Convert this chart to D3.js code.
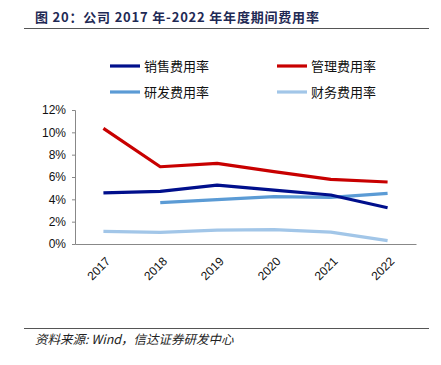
<!DOCTYPE html>
<html>
<head>
<meta charset="utf-8">
<script src="https://cdn.jsdelivr.net/npm/d3@7"></script>
<style>
  body { margin: 0; background: #fff; }
  svg { display: block; font-family: "Liberation Sans", Arial, "Noto Sans CJK SC", sans-serif; }
</style>
</head>
<body>
<svg id="chart" width="441" height="365"></svg>
<script>
const years = ['2017', '2018', '2019', '2020', '2021', '2022'];
const sales = [4.57, 4.72, 5.28, 4.83, 4.39, 3.25];
const admin = [10.35, 6.92, 7.22, 6.48, 5.79, 5.55];
const rnd = [null, 3.70, 3.97, 4.24, 4.18, 4.54];
const finance = [1.13, 1.04, 1.25, 1.28, 1.07, 0.30];
const yTicks = [0, 2, 4, 6, 8, 10, 12];

const seriesList = [
  { name: '销售费用率', values: sales, color: '#000f8c' },
  { name: '管理费用率', values: admin, color: '#c80000' },
  { name: '研发费用率', values: rnd, color: '#5b9bd5' },
  { name: '财务费用率', values: finance, color: '#a2c6e8' }
];

const margin = { top: 110, right: 25, bottom: 121, left: 75 },
  width = 441,
  height = 365;

const svg = d3.select('#chart');
const cjk = '"Noto Sans CJK SC", "Liberation Sans", sans-serif';

// title + rules
svg.append('text')
  .attr('x', 35).attr('y', 22)
  .attr('font-family', cjk)
  .attr('font-weight', 'bold')
  .attr('font-size', 13)
  .attr('letter-spacing', 0.8)
  .attr('fill', '#1f2a55')
  .text('图 20：公司 2017 年-2022 年年度期间费用率');
svg.append('line')
  .attr('x1', 24).attr('x2', 429).attr('y1', 28.5).attr('y2', 28.5)
  .attr('stroke', '#555').attr('stroke-width', 1);
svg.append('line')
  .attr('x1', 24).attr('x2', 429).attr('y1', 328.5).attr('y2', 328.5)
  .attr('stroke', '#555').attr('stroke-width', 1);
svg.append('text')
  .attr('x', 35).attr('y', 344)
  .attr('font-family', cjk)
  .attr('font-style', 'italic')
  .attr('font-size', 12.5)
  .attr('fill', '#222')
  .text('资料来源: Wind，信达证券研发中心');

const x = d3.scalePoint()
  .domain(years)
  .range([margin.left, width - margin.right])
  .padding(0.5);

const y = d3.scaleLinear()
  .domain([0, 12])
  .range([height - margin.bottom, margin.top]);

// y axis
svg.append('g')
  .attr('transform', `translate(${margin.left},0)`)
  .call(d3.axisLeft(y).tickValues(yTicks).tickSize(3).tickFormat(d => d + '%'))
  .call(g => g.select('.domain').attr('stroke', '#888'))
  .call(g => g.selectAll('.tick line').attr('stroke', '#888'))
  .call(g => g.selectAll('.tick text')
    .attr('font-size', 12).attr('fill', '#111').attr('x', -9)
    .attr('font-family', '"Liberation Sans", Arial, sans-serif'));

// x axis
svg.append('g')
  .attr('transform', `translate(0,${height - margin.bottom})`)
  .call(d3.axisBottom(x).tickSize(0).tickSizeOuter(0))
  .call(g => g.select('.domain').attr('stroke', '#888'))
  .call(g => g.selectAll('.tick text')
    .attr('font-size', 12).attr('fill', '#111')
    .attr('font-family', '"Liberation Sans", Arial, sans-serif')
    .attr('text-anchor', 'end')
    .attr('dy', 0)
    .attr('transform', 'translate(5,16) rotate(-45)'));

const line = d3.line()
  .defined(d => d != null)
  .x((d, i) => x(years[i]))
  .y(d => y(d));

svg.append('g')
  .selectAll('path')
  .data([seriesList[3], seriesList[2], seriesList[0], seriesList[1]])
  .join('path')
  .attr('fill', 'none')
  .attr('stroke', d => d.color)
  .attr('stroke-width', 3.2)
  .attr('stroke-linejoin', 'round')
  .attr('d', d => line(d.values));

// legend
const legendPos = [[110, 66], [277, 66], [110, 92], [277, 92]];
const legend = svg.append('g')
  .selectAll('g')
  .data(seriesList)
  .join('g')
  .attr('transform', (d, i) => `translate(${legendPos[i][0]},${legendPos[i][1]})`);
legend.append('line')
  .attr('x1', 0).attr('x2', 30)
  .attr('stroke', d => d.color)
  .attr('stroke-width', 3.2);
legend.append('text')
  .attr('x', 34).attr('dy', '0.35em')
  .attr('font-family', cjk)
  .attr('font-size', 13)
  .attr('fill', '#111')
  .text(d => d.name);
</script>
</body>
</html>
